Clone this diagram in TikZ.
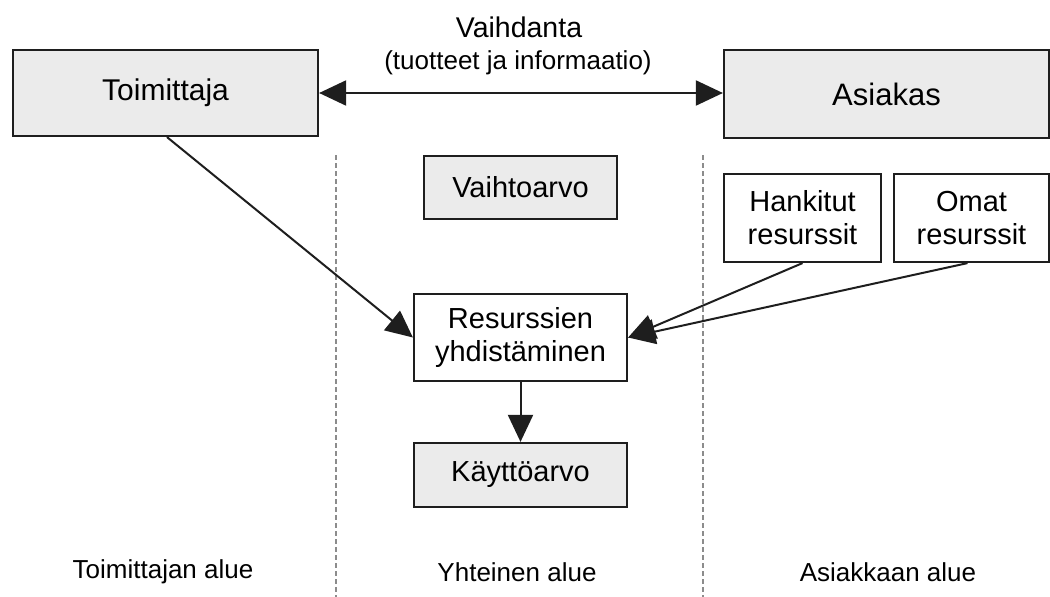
\documentclass[tikz,border=0pt]{standalone}
\usepackage{fontspec}
\setmainfont{Liberation Sans}
\usetikzlibrary{arrows.meta}
\definecolor{boxgray}{HTML}{EBEBEB}
\definecolor{framecol}{HTML}{1E1E1E}
\definecolor{dashgray}{HTML}{8C8C8C}
\tikzset{
  tip/.tip={Triangle[length=27pt,width=25pt]},
  basebox/.style={draw=framecol, line width=2.2pt, inner sep=0pt, align=center,
    font=\fontsize{29}{33}\selectfont},
  graybox/.style={basebox, fill=boxgray},
  whitebox/.style={basebox, fill=white},
  link/.style={line width=2pt, draw=framecol, -tip},
  zoneline/.style={draw=dashgray, line width=1.2pt, dash pattern=on 5pt off 3pt},
  zonelabel/.style={font=\fontsize{26}{30}\selectfont},
}
\begin{document}
\begin{tikzpicture}[x=1pt,y=-1pt]
\useasboundingbox (0,0) rectangle (1050,597);

% zone separators
\coordinate (d1top) at (336,155);
\coordinate (d1bot) at (336,597);
\coordinate (d2top) at (703,155);
\coordinate (d2bot) at (703,597);
\draw[zoneline] (d1top) -- (d1bot);
\draw[zoneline] (d2top) -- (d2bot);

% main parties
\node[graybox, minimum width=305pt, minimum height=86pt, font=\fontsize{30}{33}\selectfont]
  (toim) at (165.5,93) {Toimittaja};
\node[graybox, minimum width=325pt, minimum height=88pt, font=\fontsize{31}{33}\selectfont]
  (asi) at (886.5,94) {Asiakas};

% shared zone
\node[graybox, minimum width=193pt, minimum height=63pt] (vaihto) at (520.5,187.5) {Vaihtoarvo};
\node[whitebox, minimum width=213pt, minimum height=87pt] (res) at (520.5,337.5)
  {Resurssien\\yhdistäminen};
\node[graybox, minimum width=213pt, minimum height=64pt] (kaytto) at (520.5,475) {Käyttöarvo};

% customer resources
\node[whitebox, minimum width=157pt, minimum height=88pt] (hank) at (802.5,218) {Hankitut\\resurssit};
\node[whitebox, minimum width=155pt, minimum height=88pt] (omat) at (971.5,218) {Omat\\resurssit};

% exchange
\draw[line width=2pt, draw=framecol, tip-tip]
  (toim.east) -- (toim.east -| asi.west);
\node[font=\fontsize{28.5}{32}\selectfont] (vaihdanta) at (519,27) {Vaihdanta};
\node[font=\fontsize{26}{30}\selectfont] (tuotteet) at (518,63) {(tuotteet ja informaatio)};

% resource flows
\draw[link] ([xshift=1.5pt]toim.south) -- (res.west);
\draw[link] (hank.south) -- (res.east);
\draw[link] ([xshift=-4pt]omat.south) -- (res.east);
\draw[link] (res.south) -- (kaytto.north);

% zone labels
\node[zonelabel] (zl1) at (163,572) {Toimittajan alue};
\node[zonelabel] (zl2) at (517,572) {Yhteinen alue};
\node[zonelabel] (zl3) at (888,572) {Asiakkaan alue};
\end{tikzpicture}
\end{document}
